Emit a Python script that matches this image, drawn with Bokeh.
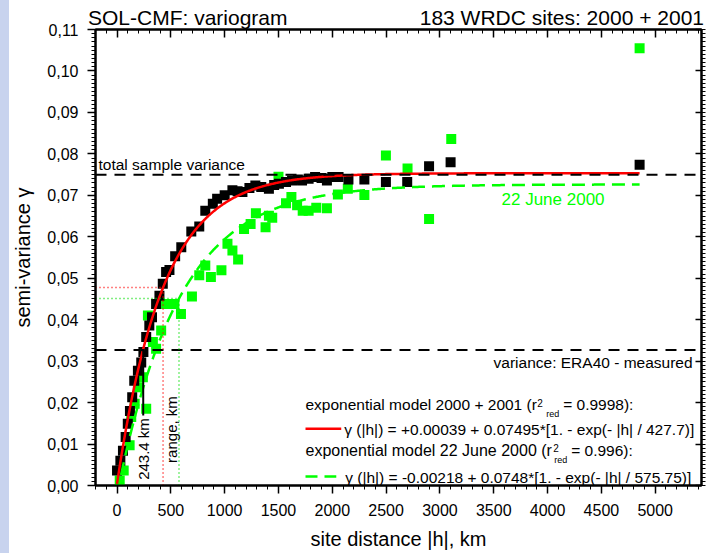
import numpy as np
from bokeh.plotting import figure
from bokeh.models import (Range1d, LinearAxis, SingleIntervalTicker,
                          CustomJSTickFormatter, Label, Div)
from bokeh.layouts import row, column
from bokeh.embed import file_html
from bokeh.resources import INLINE

FONT = "Liberation Sans"

# ---- data -----------------------------------------------------------
black_h = [0, 31, 55, 80, 100, 120, 141, 160, 194, 225, 245, 271, 300, 325,
           363, 394, 425, 456, 487, 540, 597, 690, 764, 820, 890, 930, 1000,
           1072, 1120, 1165, 1230, 1285, 1340, 1411, 1460, 1504, 1570, 1626,
           1680, 1719, 1780, 1840, 1900, 1950, 2000, 2058, 2150, 2298, 2498,
           2696, 2899, 3099, 4855]
black_g = [0.0036, 0.0060, 0.0084, 0.0117, 0.0149, 0.0180, 0.0213, 0.0253,
           0.0277, 0.0297, 0.0322, 0.0358, 0.0386, 0.0406, 0.0438, 0.0458,
           0.0487, 0.0515, 0.0520, 0.0553, 0.0575, 0.0613, 0.0625, 0.0663,
           0.0680, 0.0692, 0.0700, 0.0712, 0.0710, 0.0708, 0.0718, 0.0724,
           0.0720, 0.0716, 0.0725, 0.0728, 0.0732, 0.0736, 0.0738, 0.0736,
           0.0740, 0.0744, 0.0742, 0.0736, 0.0744, 0.0744, 0.0738, 0.0738,
           0.0732, 0.0732, 0.0770, 0.0780, 0.0774]

green_h = [25, 62, 117, 132, 164, 194, 240, 271, 287, 333, 363, 410, 456, 533,
           594, 696, 764, 820, 872, 970, 1026, 1072, 1125, 1180, 1241, 1290,
           1380, 1411, 1442, 1500, 1570, 1620, 1673, 1725, 1780, 1851, 1950,
           2052, 2144, 2298, 2498, 2699, 2899, 3105, 4855]
green_g = [0.0012, 0.0036, 0.0097, 0.0165, 0.0197, 0.0237, 0.0261, 0.0185,
           0.0410, 0.0346, 0.0330, 0.0374, 0.0438, 0.0438, 0.0414, 0.0456,
           0.0507, 0.0531, 0.0503, 0.0519, 0.0583, 0.0567, 0.0545, 0.0619,
           0.0631, 0.0657, 0.0623, 0.0651, 0.0646, 0.0745, 0.0681, 0.0696,
           0.0676, 0.0663, 0.0663, 0.0670, 0.0669, 0.0702, 0.0716, 0.0701,
           0.0796, 0.0765, 0.0643, 0.0836, 0.1055]

# fitted exponential models (parameters as printed on the chart)
model_all = dict(nugget=0.00039, sill=0.07495, rng=427.7)
model_jun = dict(nugget=-0.00218, sill=0.0748, rng=575.75)
h_max = 4855
total_variance = 0.07495
era40_variance = 0.0327
practical_range_243 = 243.4

title_left = "SOL-CMF: variogram"
title_right = "183 WRDC sites: 2000 + 2001"

x_tick_step = 500
y_tick_step = 0.01

# ---- figure -----------------------------------------------------------
Y_PER_PX = 0.11 / 456.0

p = figure(width=700, height=553, output_backend="svg", toolbar_location=None,
           x_range=Range1d(-200, 5430), y_range=Range1d(0, 0.11001),
           min_border_left=83, min_border_right=8, min_border_top=29,
           min_border_bottom=68, x_axis_type=None, y_axis_type=None)
p.xgrid.visible = False
p.ygrid.visible = False
p.outline_line_color = "black"
p.outline_line_width = 2
p.background_fill_color = "white"
p.border_fill_color = None

xt = SingleIntervalTicker(interval=x_tick_step, num_minor_ticks=5)
yt = SingleIntervalTicker(interval=y_tick_step, num_minor_ticks=10)
blank = CustomJSTickFormatter(code="return ''")

common = dict(axis_line_width=2, axis_line_color="black",
              major_tick_line_width=1.5, minor_tick_line_width=1,
              major_tick_line_color="black", minor_tick_line_color="black",
              major_label_text_color="black", axis_label_text_color="black")

xb = LinearAxis(ticker=xt, axis_label="site distance |h|, km",
                major_tick_out=8, major_tick_in=0, minor_tick_out=4, minor_tick_in=0,
                major_label_standoff=10, axis_label_standoff=9,
                major_label_text_font=FONT, major_label_text_font_size="16px",
                axis_label_text_font=FONT, axis_label_text_font_size="20px",
                axis_label_text_font_style="normal", **common)
p.add_layout(xb, "below")

yl = LinearAxis(ticker=yt, axis_label="semi-variance γ",
                formatter=CustomJSTickFormatter(code="return tick.toFixed(2).replace('.', ',')"),
                major_tick_out=8, major_tick_in=0, minor_tick_out=4, minor_tick_in=0,
                major_label_standoff=9, axis_label_standoff=10,
                major_label_text_font=FONT, major_label_text_font_size="16px",
                axis_label_text_font=FONT, axis_label_text_font_size="20px",
                axis_label_text_font_style="normal", **common)
p.add_layout(yl, "left")

xa = LinearAxis(ticker=xt, formatter=blank, major_label_text_font_size="0px",
                major_label_standoff=0, major_tick_in=8, major_tick_out=0,
                minor_tick_in=4, minor_tick_out=0, **common)
p.add_layout(xa, "above")

yr = LinearAxis(ticker=yt, formatter=blank, major_label_text_font_size="0px",
                major_label_standoff=0, major_tick_in=6, major_tick_out=0,
                minor_tick_in=0, minor_tick_out=4, **common)
p.add_layout(yr, "right")

# ---- points -------------------------------------------------------------
p.scatter(green_h, green_g, marker="square", size=10, fill_color="#00ff00",
          line_color=None)
p.scatter(black_h, black_g, marker="square", size=10, fill_color="black",
          line_color=None)

# ---- model curves ---------------------------------------------------------
hh = np.linspace(0, h_max, 600)
g_all = model_all["nugget"] + model_all["sill"] * (1 - np.exp(-hh / model_all["rng"]))
g_jun = model_jun["nugget"] + model_jun["sill"] * (1 - np.exp(-hh / model_jun["rng"]))
p.line(hh, g_jun, line_color="#00ff00", line_width=2.5, line_dash="13 7")
p.line(hh, g_all, line_color="#ff0000", line_width=2.5)

# ---- reference lines --------------------------------------------------------
x0, x1 = -200, 5430
p.line([x0, x1], [total_variance, total_variance], line_color="black",
       line_width=2, line_dash="11 8")
p.line([x0, x1], [era40_variance, era40_variance], line_color="black",
       line_width=2, line_dash="11 8")

r_all = model_all["rng"]
gr_all = model_all["nugget"] + model_all["sill"] * (1 - np.exp(-1))
r_jun = model_jun["rng"]
gr_jun = model_jun["nugget"] + model_jun["sill"] * (1 - np.exp(-1))
p.line([x0, r_all], [gr_all, gr_all], line_color="#ff0000", line_width=1.5, line_dash="1 3")
p.line([r_all, r_all], [0, gr_all], line_color="#ff0000", line_width=1.5, line_dash="1 3")
p.line([x0, r_jun], [gr_jun, gr_jun], line_color="#00dd00", line_width=1.5, line_dash="1 3")
p.line([r_jun, r_jun], [0, gr_jun], line_color="#00dd00", line_width=1.5, line_dash="1 3")

p.line([practical_range_243, practical_range_243], [0.0169, era40_variance],
       line_color="black", line_width=2)

# legend samples
p.line([1751, 2083], [0.01368, 0.01368], line_color="#ff0000", line_width=2.5)
p.line([1751, 2037], [0.00217, 0.00217], line_color="#00ff00", line_width=2.5,
       line_dash="12 7")


def lab(x, y, text, size=15.5, color="black", align="left",
        baseline="alphabetic", angle=0.0):
    # small upward correction so the alphabetic baseline lands where intended
    dy = 0.3 * size * Y_PER_PX if baseline == "alphabetic" else 0.0
    p.add_layout(Label(x=x, y=y + dy, text=text, text_font=FONT,
                       text_font_size=f"{size}px", text_color=color,
                       text_align=align, text_baseline=baseline, angle=angle))


lab(-172, 0.07623, "total sample variance")
lab(5347, 0.02846, "variance: ERA40 - measured", align="right")
lab(3572, 0.06778, "22 June 2000", size=17, color="#00ff00")

lab(1751, 0.0185, "exponential model 2000 + 2001 (r")
lab(3905, 0.0193, "2", size=10)
lab(3988, 0.01648, "red", size=9)
lab(4145, 0.0185, "= 0.9998):")
lab(2111, 0.01247, "γ (|h|) = +0.00039 + 0.07495*[1. - exp(- |h| / 427.7)]")

lab(1751, 0.00724, "exponential model 22 June 2000 (r", size=16)
lab(4052, 0.00844, "2", size=10)
lab(4061, 0.00538, "red", size=9)
lab(4219, 0.00724, "= 0.996):")
lab(2120, 0.0009, "γ (|h|) = -0.00218 + 0.0748*[1. - exp(- |h| / 575.75)]")

lab(245, 0.0088, "243.4 km", size=15, align="center", baseline="middle",
    angle=np.pi / 2)
lab(503, 0.0135, "range, km", size=15, align="center", baseline="middle",
    angle=np.pi / 2)

span_css = ("position:absolute;top:7px;font-size:21px;line-height:21px;"
            "white-space:nowrap;color:black;")
header = Div(
    text=(f"<div style=\"position:relative;width:700px;height:29px;"
          f"font-family:'{FONT}';\">"
          f'<span style="{span_css}left:79px;">{title_left}</span>'
          f'<span style="{span_css}right:5px;">{title_right}</span></div>'),
    width=700, height=29, margin=(0, 0, -29, 0))

strip = Div(width=9, height=553, styles={"background-color": "#c8d3ee"},
            margin=0)
layout = row(strip, column(header, p, spacing=0), spacing=0)

open("out.html", "w").write(file_html(layout, INLINE))
